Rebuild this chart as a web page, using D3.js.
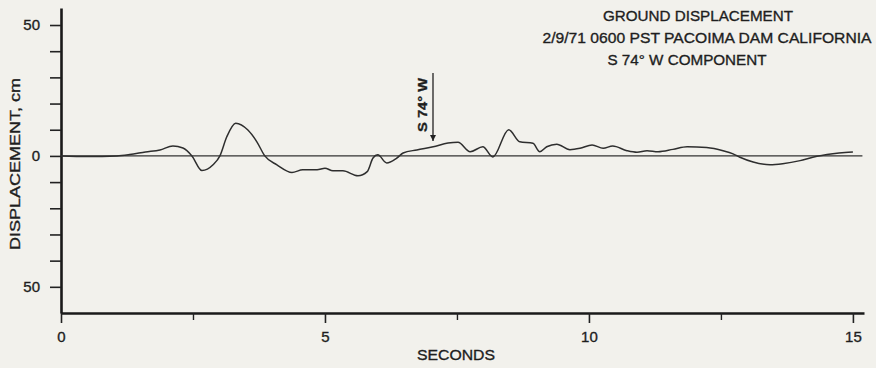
<!DOCTYPE html>
<html>
<head>
<meta charset="utf-8">
<script src="https://cdn.jsdelivr.net/npm/d3@7"></script>
<style>
  body { margin: 0; background: #f2f1ec; }
  svg { display: block; }
  text { fill: #1e1e1e; stroke: #1e1e1e; stroke-width: 0.35px; font-family: "Liberation Sans", Arial, sans-serif; }
</style>
</head>
<body>
<div id="chart"></div>
<script>
// trace: seconds vs displacement (cm)
var seconds = [0, 0.5, 1.06, 1.3, 1.6, 1.875, 2.12, 2.31, 2.48, 2.67, 2.88, 3.01, 3.14, 3.31, 3.54, 3.71, 3.86,
  4.09, 4.375, 4.58, 4.85, 5.0, 5.15, 5.34, 5.625, 5.8, 5.91, 6.0, 6.17, 6.36, 6.48, 6.74, 7.05, 7.33,
  7.52, 7.75, 7.99, 8.18, 8.48, 8.69, 8.94, 9.07, 9.2, 9.39, 9.64, 9.83, 10.06, 10.27, 10.45, 10.72,
  10.91, 11.1, 11.31, 11.59, 11.86, 12.23, 12.54, 12.73, 12.86, 13.11, 13.43, 13.67, 14.0, 14.24,
  14.62, 14.85, 15.0];
var displacement = [0, -0.2, 0, 0.5, 1.5, 2.3, 3.8, 3.0, 0, -5.6, -3.4, 0, 7.3, 12.5, 9.9, 5.4, 0,
  -3.4, -6.3, -5.3, -5.3, -4.7, -5.7, -5.7, -7.6, -6, -0.8, 0.4, -2.7, -0.8, 1.1, 2.3, 3.5, 4.9,
  5.2, 1.6, 3.5, -0.4, 10.0, 5.4, 4.8, 1.6, 3.5, 4.5, 2.4, 2.9, 4.2, 2.9, 3.8, 2.0,
  1.4, 2.0, 1.6, 2.5, 3.5, 3.2, 2.0, 0.8, -0.5, -2.3, -3.4, -3.0, -1.8, -0.5,
  0.8, 1.3, 1.5];
var yTicks = [-50, -40, -30, -20, -10, 0, 10, 20, 30, 40, 50];
var yLabeled = [-50, 0, 50];
var xMajor = [0, 5, 10, 15];
var xMinor = [2.5, 7.5, 12.5];
var titleLines = ["GROUND DISPLACEMENT", "2/9/71  0600 PST PACOIMA DAM CALIFORNIA", "S 74\u00B0 W  COMPONENT"];

var width = 876, height = 368;
var svg = d3.select("#chart").append("svg")
  .attr("width", width).attr("height", height);

var x = d3.scaleLinear().domain([0, 15.21]).range([61, 864]);
var y = d3.scaleLinear().domain([-60, 56.5]).range([313, 8]);

// y axis
var yAxis = svg.append("g")
  .attr("transform", "translate(61,0)")
  .call(d3.axisLeft(y).tickValues(yTicks).tickSize(11).tickSizeOuter(0)
    .tickPadding(10)
    .tickFormat(function(d) { return yLabeled.indexOf(d) >= 0 ? Math.abs(d) : ""; }));
yAxis.select(".domain").attr("stroke", "#1a1a1a").attr("stroke-width", 2.6);
yAxis.selectAll(".tick line").attr("stroke", "#222").attr("stroke-width", 1.6);
yAxis.selectAll(".tick text").style("font-size", "15px").attr("fill", "#1e1e1e");

// x axis, major and minor ticks
var xAxis = svg.append("g")
  .attr("transform", "translate(0,313)")
  .call(d3.axisBottom(x).tickValues(xMajor).tickSize(10).tickSizeOuter(0).tickPadding(8)
    .tickFormat(d3.format("d")));
xAxis.select(".domain").attr("stroke", "#1a1a1a").attr("stroke-width", 2.6);
xAxis.selectAll(".tick line").attr("stroke", "#222").attr("stroke-width", 1.6);
xAxis.selectAll(".tick text").style("font-size", "15px").attr("fill", "#1e1e1e");

var xMinorAxis = svg.append("g")
  .attr("transform", "translate(0,313)")
  .call(d3.axisBottom(x).tickValues(xMinor).tickSize(7).tickFormat(""));
xMinorAxis.select(".domain").remove();
xMinorAxis.selectAll(".tick line").attr("stroke", "#222").attr("stroke-width", 1.4);

// zero reference line
svg.append("line")
  .attr("x1", x(0)).attr("x2", x(15.18))
  .attr("y1", y(0)).attr("y2", y(0))
  .attr("stroke", "#333").attr("stroke-width", 1.1);

// displacement trace
var line = d3.line()
  .x(function(d, i) { return x(seconds[i]); })
  .y(function(d) { return y(d); })
  .curve(d3.curveMonotoneX);

svg.append("path")
  .datum(displacement)
  .attr("d", line)
  .attr("fill", "none")
  .attr("stroke", "#2e2e2e")
  .attr("stroke-width", 1.5);

// axis labels
svg.append("text")
  .attr("transform", "translate(20," + 164 + ") rotate(-90)")
  .attr("text-anchor", "middle")
  .attr("textLength", 172).attr("lengthAdjust", "spacingAndGlyphs")
  .style("font-size", "15px")
  .text("DISPLACEMENT, cm");

svg.append("text")
  .attr("x", 456).attr("y", 360)
  .attr("text-anchor", "middle")
  .attr("textLength", 78).attr("lengthAdjust", "spacingAndGlyphs")
  .style("font-size", "15px")
  .text("SECONDS");

// title block
var titleX = [698, 707, 687], titleY = [21, 43, 65], titleW = [190, 329, 159];
titleLines.forEach(function(t, i) {
  svg.append("text")
    .attr("x", titleX[i]).attr("y", titleY[i])
    .attr("text-anchor", "middle")
    .attr("textLength", titleW[i]).attr("lengthAdjust", "spacingAndGlyphs")
    .style("font-size", "15px")
    .text(t);
});

// direction arrow
svg.append("defs").append("marker")
  .attr("id", "head").attr("viewBox", "0 0 10 10")
  .attr("refX", 10).attr("refY", 5)
  .attr("markerWidth", 5).attr("markerHeight", 6)
  .attr("orient", "auto")
  .append("path").attr("d", "M0,0 L10,5 L0,10 Z").attr("fill", "#222");

svg.append("line")
  .attr("x1", 433).attr("x2", 433)
  .attr("y1", 73).attr("y2", 141)
  .attr("stroke", "#222").attr("stroke-width", 1.3)
  .attr("marker-end", "url(#head)");

svg.append("text")
  .attr("transform", "translate(427,105) rotate(-90)")
  .attr("text-anchor", "middle")
  .attr("textLength", 54).attr("lengthAdjust", "spacingAndGlyphs")
  .style("font-size", "13px").style("font-weight", "bold")
  .text("S 74\u00B0 W");
</script>
</body>
</html>
